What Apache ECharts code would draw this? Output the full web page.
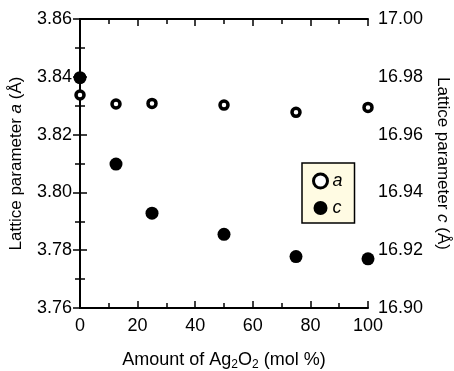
<!DOCTYPE html>
<html>
<head>
<meta charset="utf-8">
<script src="https://cdn.jsdelivr.net/npm/echarts@6/dist/echarts.min.js"></script>
<style>
  html, body { margin: 0; padding: 0; background: #fff; }
  #chart { width: 454px; height: 371px; }
</style>
</head>
<body>
<div id="chart"></div>
<script>
// amount of Ag2O2 (mol %)
var amounts = [0, 12.5, 25, 50, 75, 100];
// lattice parameter a (left axis) and c (right axis), in angstrom
var latticeA = [3.8337, 3.8306, 3.8308, 3.8302, 3.8277, 3.8294];
var latticeC = [16.9797, 16.9498, 16.9328, 16.9255, 16.9178, 16.917];

var font = 'Liberation Sans, Arial, sans-serif';
var chartDom = document.getElementById('chart');
var myChart = echarts.init(chartDom);

function pairs(xs, ys) {
    return xs.map(function (x, i) { return [x, ys[i]]; });
}

var axisLine = { show: true, lineStyle: { color: '#000', width: 2 } };
var tick = { show: true, inside: true, length: 7, lineStyle: { color: '#000', width: 1.5 } };
var minor = { show: true, splitNumber: 2, length: 5, lineStyle: { color: '#000', width: 1.5 } };

var option = {
    animation: false,
    backgroundColor: '#fff',
    grid: { left: 80, right: 86, top: 19, bottom: 63, outerBoundsMode: 'none', containLabel: false },
    legend: {
        orient: 'vertical',
        left: 302,
        top: 163,
        padding: [9, 12, 6, 10],
        itemGap: 9,
        itemWidth: 14,
        itemHeight: 14,
        backgroundColor: '#fffbe3',
        borderColor: '#000',
        borderWidth: 1.5,
        borderRadius: 0,
        textStyle: { fontFamily: font, fontSize: 18, fontStyle: 'italic', color: '#000' },
        data: [
            { name: 'a', itemStyle: { color: '#fff', borderColor: '#000', borderWidth: 3 } },
            { name: 'c' }
        ]
    },
    xAxis: [
        {
            type: 'value', min: 0, max: 100, interval: 20,
            axisLine: axisLine, axisTick: tick, minorTick: minor,
            splitLine: { show: false },
            axisLabel: { fontFamily: font, fontSize: 18, color: '#000', margin: 9 },
            name: 'Amount of Ag{sub|2}O{sub|2} (mol %)',
            nameLocation: 'middle',
            nameGap: 42,
            nameTextStyle: {
                fontFamily: font, fontSize: 18, color: '#000',
                rich: { sub: { fontFamily: font, fontSize: 12, color: '#000', padding: [9, 0, 0, 0] } }
            }
        },
        {
            type: 'value', position: 'top', min: 0, max: 100, interval: 20,
            axisLine: axisLine, axisTick: tick, minorTick: minor,
            splitLine: { show: false }, axisLabel: { show: false }
        }
    ],
    yAxis: [
        {
            type: 'value', min: 3.76, max: 3.86, interval: 0.02,
            axisLine: axisLine, axisTick: tick, minorTick: minor,
            splitLine: { show: false },
            axisLabel: {
                fontFamily: font, fontSize: 18, color: '#000', margin: 8,
                formatter: function (v) { return v.toFixed(2); }
            },
            name: 'Lattice parameter {i|a} (Å)',
            nameLocation: 'middle',
            nameGap: 55,
            nameTextStyle: {
                fontFamily: font, fontSize: 17, color: '#000',
                rich: { i: { fontFamily: font, fontSize: 17, fontStyle: 'italic', color: '#000' } }
            }
        },
        {
            type: 'value', position: 'right', min: 16.90, max: 17.00, interval: 0.02,
            axisLine: axisLine, axisTick: tick, minorTick: minor,
            splitLine: { show: false },
            axisLabel: {
                fontFamily: font, fontSize: 18, color: '#000', margin: 10,
                formatter: function (v) { return v.toFixed(2); }
            },
            name: 'Lattice parameter {i|c} (Å)',
            nameLocation: 'middle',
            nameGap: 66,
            nameRotate: -90,
            nameTextStyle: {
                fontFamily: font, fontSize: 17, color: '#000',
                rich: { i: { fontFamily: font, fontSize: 17, fontStyle: 'italic', color: '#000' } }
            }
        }
    ],
    series: [
        {
            name: 'a',
            type: 'scatter',
            yAxisIndex: 0,
            symbol: 'circle',
            symbolSize: 8,
            clip: false,
            z: 5,
            itemStyle: { color: '#fff', borderColor: '#000', borderWidth: 3.5, opacity: 1 },
            data: pairs(amounts, latticeA)
        },
        {
            name: 'c',
            type: 'scatter',
            yAxisIndex: 1,
            symbol: 'circle',
            symbolSize: 13,
            clip: false,
            z: 5,
            itemStyle: { color: '#000', opacity: 1 },
            data: pairs(amounts, latticeC)
        }
    ]
};

option && myChart.setOption(option);
</script>
</body>
</html>
